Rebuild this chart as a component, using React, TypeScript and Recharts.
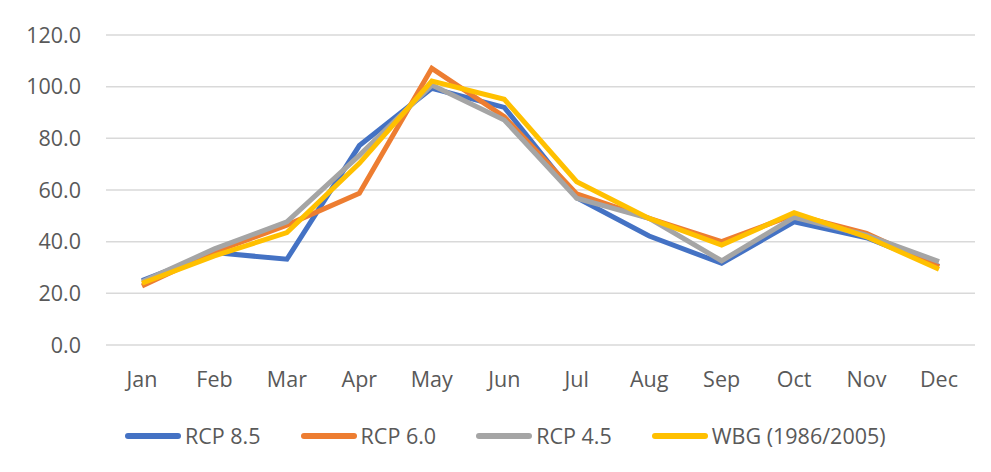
import React from 'react';
import { LineChart, Line, XAxis, YAxis, CartesianGrid } from 'recharts';

const months = ['Jan', 'Feb', 'Mar', 'Apr', 'May', 'Jun', 'Jul', 'Aug', 'Sep', 'Oct', 'Nov', 'Dec'];
const rcp85 = [24.9, 35.8, 33.2, 77.2, 99.4, 92.0, 57.0, 42.2, 31.6, 47.7, 41.5, 30.5];
const rcp60 = [22.8, 36.0, 46.4, 58.7, 107.1, 88.4, 58.5, 49.0, 40.0, 50.5, 43.2, 30.3];
const rcp45 = [24.5, 37.2, 47.7, 73.4, 100.6, 87.1, 56.8, 49.0, 32.6, 49.4, 42.5, 32.3];
const wbg = [23.9, 34.5, 43.5, 70.3, 102.2, 95.1, 63.2, 49.0, 38.7, 51.2, 41.9, 29.3];
const yTicks = [0, 20, 40, 60, 80, 100, 120];

const seriesInfo = [
  { key: 'rcp85', name: 'RCP 8.5', color: '#4472C4' },
  { key: 'rcp60', name: 'RCP 6.0', color: '#ED7D31' },
  { key: 'rcp45', name: 'RCP 4.5', color: '#A5A5A5' },
  { key: 'wbg', name: 'WBG (1986/2005)', color: '#FFC000' },
];

const data = months.map((m, i) => ({
  month: m,
  rcp85: rcp85[i],
  rcp60: rcp60[i],
  rcp45: rcp45[i],
  wbg: wbg[i],
}));

const FONT = '"Open Sans", "Noto Sans", sans-serif';
const TEXT = '#595959';

function LegendRow() {
  return (
    <div style={{ position: 'absolute', left: 125, top: 421, display: 'flex', alignItems: 'center', fontFamily: FONT, fontSize: 21.5, color: TEXT, whiteSpace: 'nowrap' }}>
      {seriesInfo.map(s => (
        <div key={s.key} style={{ display: 'flex', alignItems: 'center', marginRight: 40 }}>
          <span style={{ display: 'inline-block', width: 56, height: 6, borderRadius: 3, background: s.color, marginRight: 4 }} />
          <span>{s.name}</span>
        </div>
      ))}
    </div>
  );
}

export default function App() {
  return (
    <div style={{ margin: -8, width: 991, height: 472, position: 'relative', background: '#fff' }}>
      <div style={{ position: 'absolute', left: 1, top: 0, width: 988, height: 470, border: '1px solid #d9d9d9', pointerEvents: 'none' }} />
      <LineChart width={991} height={472} data={data} margin={{ top: 35, right: 16, bottom: 0, left: 0 }}>
        <CartesianGrid vertical={false} stroke="#d9d9d9" strokeWidth={1.5} />
        <XAxis
          dataKey="month"
          axisLine={false}
          tickLine={false}
          tickMargin={21}
          height={127}
          padding={{ left: 36, right: 36 }}
          tick={{ fill: TEXT, fontSize: 21.5, fontFamily: FONT }}
          interval={0}
        />
        <YAxis
          domain={[0, 120]}
          ticks={yTicks}
          axisLine={false}
          tickLine={false}
          tickMargin={19}
          width={106}
          tickFormatter={(v: number) => v.toFixed(1)}
          tick={{ fill: TEXT, fontSize: 21.5, fontFamily: FONT }}
        />
        {seriesInfo.map(s => (
          <Line
            key={s.key}
            type="linear"
            dataKey={s.key}
            name={s.name}
            stroke={s.color}
            strokeWidth={5}
            dot={false}
            isAnimationActive={false}
          />
        ))}
      </LineChart>
      <LegendRow />
    </div>
  );
}
